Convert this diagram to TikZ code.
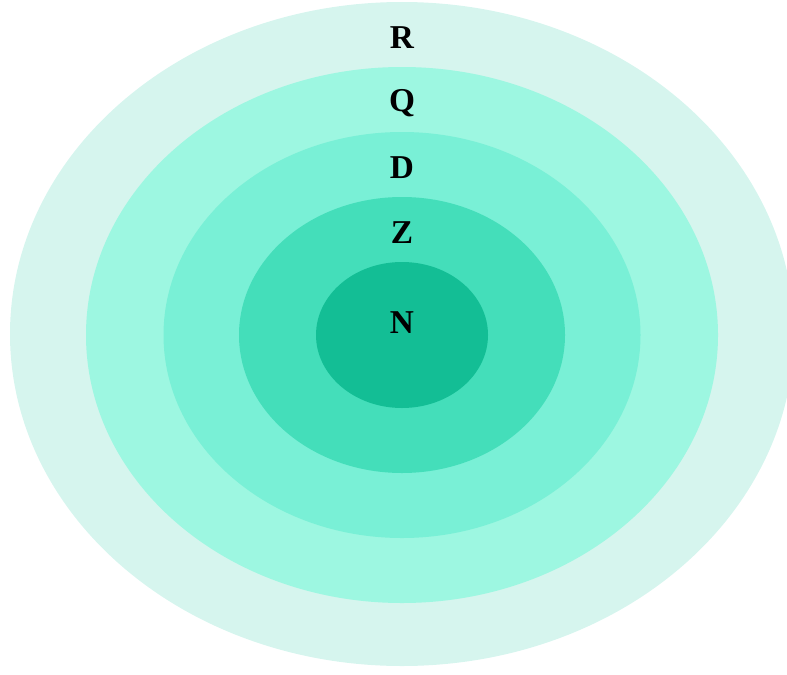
\documentclass[tikz,border=0pt]{standalone}
\usepackage{tikz}
\usetikzlibrary{positioning}
\usepackage{fontspec}
\setmainfont{Liberation Serif}
\definecolor{RingR}{HTML}{D6F5EE}
\definecolor{RingQ}{HTML}{9DF7E1}
\definecolor{RingD}{HTML}{79F0D6}
\definecolor{RingZ}{HTML}{44DEBA}
\definecolor{RingN}{HTML}{13BE95}

\begin{document}
\begin{tikzpicture}[x=0.75pt,y=-0.75pt,every node/.style={font=\fontsize{25}{27}\selectfont\bfseries}]
\tikzstyle{layer}=[text=black,inner sep=0pt]
\useasboundingbox (0,0) rectangle (787,674);
\clip (0,0) rectangle (787,674);
% rings, outside in
\fill[RingR] (402,334) ellipse [x radius=392,y radius=332];
\fill[RingQ] (402,335) ellipse [x radius=316,y radius=268];
\fill[RingD] (402,335) ellipse [x radius=238.5,y radius=203];
\fill[RingZ] (402,335) ellipse [x radius=163,y radius=138];
\fill[RingN] (402,335) ellipse [x radius=86,y radius=73];
% labels
\node[layer] (r) at (402,38) {R};
\node[layer] (q) at (402,103) {Q};
\node[layer] (d) at (402,168) {D};
\node[layer] (z) at (402,233) {Z};
\node[layer] (n) at (402,323) {N};
\end{tikzpicture}
\end{document}
